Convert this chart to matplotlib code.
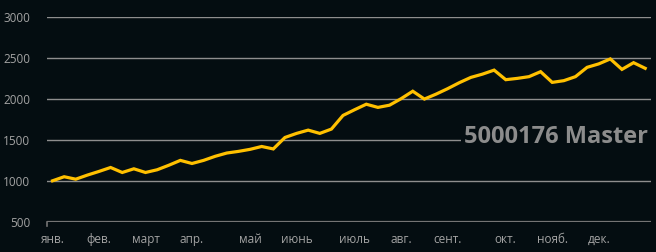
import matplotlib
matplotlib.use("Agg")
from matplotlib import pyplot as plt

# weekly balance, one point per week
balance = [1000, 1050, 1020, 1070, 1115, 1163, 1102, 1147, 1102, 1135,
           1190, 1250, 1212, 1250, 1300, 1340, 1360, 1385, 1420, 1390,
           1530, 1580, 1620, 1580, 1633, 1800, 1870, 1937, 1898, 1925,
           2005, 2096, 2000, 2060, 2127, 2200, 2265, 2305, 2354, 2237,
           2253, 2274, 2335, 2204, 2225, 2274, 2388, 2430, 2491, 2363,
           2445, 2376]
month_labels = ["янв.", "фев.", "март", "апр.", "май", "июнь",
                "июль", "авг.", "сент.", "окт.", "нояб.", "дек."]
month_weeks = [0, 4, 8, 12, 17, 21, 26, 30, 34, 39, 43, 47]
y_ticks = [500, 1000, 1500, 2000, 2500, 3000]
title = "5000176 Master"

bg = "#040d11"
fonts = ["Open Sans", "DejaVu Sans"]

fig = plt.figure(figsize=(6.56, 2.52), dpi=100, facecolor=bg)
ax = fig.add_axes([46.7 / 656, 1 - 221.7 / 252, (651 - 46.7) / 656, (221.7 - 17.3) / 252])
ax.set_facecolor(bg)

for v in y_ticks[1:]:
    ax.axhline(v, color="#8e8e8e", lw=1.0, zorder=1)
ax.axhline(y_ticks[0], color="#747474", lw=1.6, zorder=1)

ax.plot(range(len(balance)), balance, color="#ffc000", lw=2.3,
        solid_joinstyle="miter", zorder=3)

ax.set_xlim(-0.5, len(balance) - 0.5)
ax.set_ylim(500, 3000)
ax.set_yticks(y_ticks)
ax.set_yticklabels([str(v) for v in y_ticks], family=fonts, fontsize=8.5, color="#a3a3a3")
ax.set_xticks(month_weeks)
ax.set_xticklabels(month_labels, family=fonts, fontsize=8.5, color="#a3a3a3")
ax.tick_params(axis="y", length=0, pad=12)
ax.tick_params(axis="x", length=0, pad=8)
for s in ax.spines.values():
    s.set_visible(False)
# small tick at the start of the category axis
ax.plot([-0.5, -0.5], [500, 450], color="#747474", lw=1.2, clip_on=False)

ax.text(0.995, 0.415, title, transform=ax.transAxes, ha="right", va="center",
        family=fonts, fontsize=17, fontweight="bold", color="#8c8c8c", zorder=4,
        bbox=dict(facecolor=bg, edgecolor="none", pad=2))

fig.savefig("out.png", dpi=100, facecolor=bg)
